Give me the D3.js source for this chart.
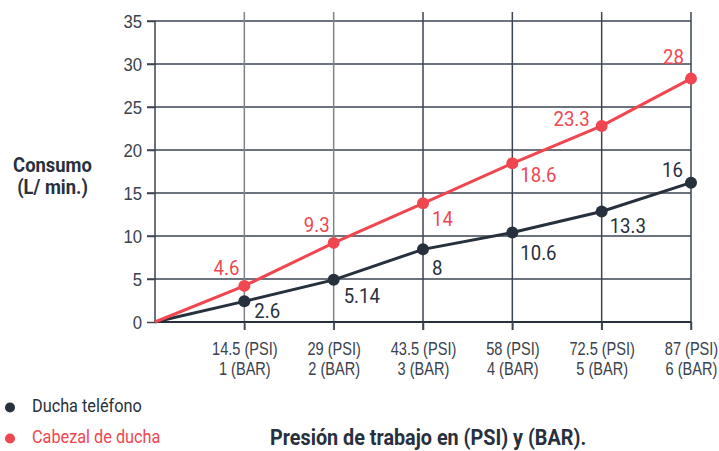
<!DOCTYPE html>
<html><head><meta charset="utf-8">
<script src="https://cdn.jsdelivr.net/npm/d3@7"></script>
<style>
body{margin:0;background:#fff;}
svg{display:block;font-family:"Roboto",sans-serif;}
</style></head><body>
<svg id="c" width="719" height="451"></svg>
<script>
// ---- data ----
const categoriesPSI = ["14.5 (PSI)", "29 (PSI)", "43.5 (PSI)", "58 (PSI)", "72.5 (PSI)", "87 (PSI)"];
const categoriesBAR = ["1 (BAR)", "2 (BAR)", "3 (BAR)", "4 (BAR)", "5 (BAR)", "6 (BAR)"];
const duchaTelefono = [0, 2.4, 4.9, 8.45, 10.4, 12.85, 16.2];
const duchaTelefonoLabels = ["", "2.6", "5.14", "8", "10.6", "13.3", "16"];
const cabezalDucha = [0, 4.2, 9.2, 13.8, 18.45, 22.8, 28.3];
const cabezalDuchaLabels = ["", "4.6", "9.3", "14", "18.6", "23.3", "28"];
const yTicks = [0, 5, 10, 15, 20, 25, 30, 35];
const seriesNames = ["Ducha teléfono", "Cabezal de ducha"];

// ---- layout config ----
const dark = "#27303d", red = "#f0464f", grid = "#3d4551", gridLight = "#7d848d", txt = "#3a424e";
const blackOff = [null, [10, 17, "start"], [10, 23, "start"], [9, 26, "start"], [8, 27, "start"], [8, 22, "start"], [-8, -6, "end"]];
const redOff = [null, [-5, -11, "end"], [-4, -11, "end"], [9, 23, "start"], [8, 19, "start"], [-12, 0, "end"], [-7, -15, "end"]];

const svg = d3.select("#c");
const x = d3.scaleLinear().domain([0, 6]).range([155, 691]);
const y = d3.scaleLinear().domain([0, 35]).range([322, 21]);

function ctext(parent, tx, ty, str, size, sx, anchor, color, weight) {
  return parent.append("text")
    .attr("transform", `translate(${tx},${ty}) scale(${sx},1)`)
    .attr("font-size", size).attr("text-anchor", anchor || "start")
    .attr("fill", color).attr("font-weight", weight || "normal").text(str);
}

// horizontal grid
svg.append("g").selectAll("line").data(yTicks.filter(d => d > 0)).join("line")
  .attr("x1", 147).attr("x2", x(6)).attr("y1", d => y(d)).attr("y2", d => y(d))
  .attr("stroke", grid).attr("stroke-width", 1.5);
// vertical grid
svg.append("g").selectAll("line").data(d3.range(1, 7)).join("line")
  .attr("x1", d => x(d)).attr("x2", d => x(d)).attr("y1", 12).attr("y2", 330)
  .attr("stroke", (d, i) => i < 2 ? gridLight : grid).attr("stroke-width", 1.5);

// y axis
const yAxis = svg.append("g").attr("transform", `translate(${x(0)},0)`)
  .call(d3.axisLeft(y).tickValues(yTicks).tickSize(8).tickFormat(""));
yAxis.select(".domain").attr("stroke", grid).attr("stroke-width", 1.5).attr("d", `M0,${y(35)}V${y(0)}`);
yAxis.selectAll(".tick line").attr("stroke", grid).attr("stroke-width", 1.5);
yAxis.selectAll(".tick").each(function(d) {
  ctext(d3.select(this), -13, 6.5, d3.format("d")(d), 18, 0.93, "end", txt);
});

// x axis
const xAxis = svg.append("g").attr("transform", `translate(0,${y(0)})`)
  .call(d3.axisBottom(x).tickValues(d3.range(1, 7)).tickSize(8).tickFormat(""));
xAxis.select(".domain").attr("stroke", dark).attr("stroke-width", 2.2).attr("d", `M${x(0)},0H${x(6)}`);
xAxis.selectAll(".tick line").attr("stroke", grid).attr("stroke-width", 1.5);
xAxis.selectAll(".tick").each(function(d, i) {
  const g = d3.select(this);
  ctext(g, 0, 33, categoriesPSI[i], 18, 0.81, "middle", txt);
  ctext(g, 0, 53, categoriesBAR[i], 18, 0.81, "middle", txt);
});

// lines
const line = d3.line().x((d, i) => x(i)).y(d => y(d));
function series(vals, labels, offs, color) {
  svg.append("path").datum(vals).attr("d", line).attr("fill", "none")
    .attr("stroke", color).attr("stroke-width", 3);
  svg.append("g").selectAll("circle").data(vals.slice(1)).join("circle")
    .attr("cx", (d, i) => x(i + 1)).attr("cy", d => y(d)).attr("r", 6).attr("fill", color);
  const lg = svg.append("g");
  vals.slice(1).forEach((d, i) => {
    const o = offs[i + 1];
    ctext(lg, x(i + 1) + o[0], y(d) + o[1], labels[i + 1], 20, 0.93, o[2], color);
  });
}
series(duchaTelefono, duchaTelefonoLabels, blackOff, dark);
series(cabezalDucha, cabezalDuchaLabels, redOff, red);

// y title
ctext(svg, 52.5, 172, "Consumo", 20, 0.92, "middle", dark, "bold");
ctext(svg, 52.5, 194, "(L/ min.)", 20, 0.92, "middle", dark, "bold");

// legend
[dark, red].forEach((c, i) => {
  svg.append("circle").attr("cx", 10).attr("cy", 407.5 + i * 31).attr("r", 5).attr("fill", c);
  ctext(svg, 32, 412 + i * 30.5, seriesNames[i], 18.5, 0.88, "start", c);
});

// x title
ctext(svg, 270, 445, "Presión de trabajo en (PSI) y (BAR).", 22, 0.9, "start", dark, "bold");
</script>
</body></html>
